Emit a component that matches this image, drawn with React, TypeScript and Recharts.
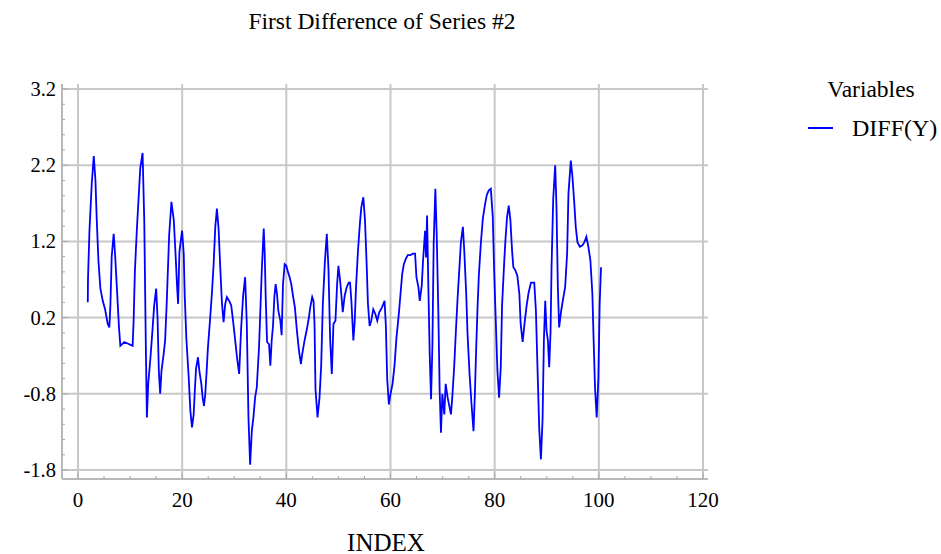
import React from "react";
import { LineChart, Line, XAxis, YAxis, CartesianGrid } from "recharts";

const xIndex = [
  1.88, 1.92, 2.2, 2.64, 3.03, 3.35, 3.6, 3.92, 4.3, 4.75, 5.2, 5.7, 6.02, 6.22, 6.47, 6.85, 7.11, 7.49, 7.87, 8.13,
  8.89, 9.53, 10.49, 10.68, 10.93, 11.31, 11.63, 11.95, 12.4, 12.72, 13.04, 13.23, 13.48, 13.86, 14.25, 14.63, 15.01, 15.27, 15.52, 15.78,
  16.03, 16.41, 16.73, 17.05, 17.5, 17.94, 18.39, 18.71, 19.03, 19.22, 19.47, 19.98, 20.3, 20.49, 20.81, 21.26, 21.57, 21.89, 22.21, 22.4,
  22.66, 23.04, 23.3, 23.68, 23.93, 24.19, 24.44, 24.7, 24.95, 25.34, 25.72, 26.04, 26.36, 26.67, 26.99, 27.31, 27.63, 27.95, 28.27, 28.59,
  29.03, 29.42, 29.8, 30.18, 30.56, 30.94, 31.33, 31.71, 32.09, 32.41, 32.73, 33.05, 33.37, 33.68, 34.0, 34.32, 34.77, 35.3, 35.66, 35.85,
  36.04, 36.3, 36.68, 36.93, 37.19, 37.44, 37.7, 37.95, 38.21, 38.46, 38.85, 39.1, 39.36, 39.68, 39.99, 40.31, 40.63, 40.95, 41.27, 41.65,
  42.03, 42.42, 42.8, 43.05, 43.5, 43.95, 44.33, 44.58, 44.97, 45.22, 45.41, 45.6, 45.99, 46.37, 46.69, 47.01, 47.39, 47.77, 48.09, 48.41,
  48.73, 49.05, 49.43, 49.75, 50.0, 50.32, 50.58, 50.83, 51.21, 51.6, 51.98, 52.23, 52.49, 52.87, 53.12, 53.38, 53.76, 54.14, 54.4, 54.78,
  55.1, 55.42, 55.67, 55.99, 56.31, 56.69, 57.08, 57.46, 57.84, 58.35, 58.86, 59.11, 59.37, 59.69, 60.01, 60.39, 60.77, 61.15, 61.6, 61.92,
  62.24, 62.56, 62.94, 63.32, 63.83, 64.34, 64.72, 64.98, 65.36, 65.62, 66.0, 66.25, 66.64, 66.83, 67.02, 67.27, 67.53, 67.78, 68.04, 68.29,
  68.61, 68.87, 69.18, 69.44, 69.69, 69.95, 70.33, 70.59, 70.97, 71.35, 71.61, 71.86, 72.24, 72.56, 72.88, 73.2, 73.52, 73.9, 74.16, 74.54,
  74.79, 75.18, 75.56, 75.94, 76.2, 76.45, 76.71, 76.96, 77.34, 77.73, 78.11, 78.49, 78.87, 79.26, 79.64, 79.89, 80.21, 80.53, 80.85, 81.17,
  81.42, 81.81, 82.06, 82.38, 82.7, 83.02, 83.34, 83.59, 83.97, 84.35, 84.74, 84.99, 85.37, 85.76, 86.14, 86.52, 86.97, 87.6, 87.92, 88.24,
  88.56, 88.88, 89.2, 89.45, 89.71, 89.96, 90.22, 90.47, 90.73, 90.92, 91.24, 91.62, 91.87, 92.13, 92.38, 92.77, 93.15, 93.53, 93.91, 94.17,
  94.62, 94.93, 95.25, 95.57, 95.89, 96.34, 96.85, 97.23, 97.61, 97.99, 98.38, 98.76, 99.01, 99.27, 99.59, 99.91, 100.16, 100.42,
];

const diffY = [
  0.4, 0.71, 1.34, 1.96, 2.32, 2.0, 1.48, 0.95, 0.58, 0.42, 0.31, 0.12, 0.07, 0.36, 1.0, 1.3, 1.04, 0.56, 0.07, -0.17,
  -0.12, -0.14, -0.17, 0.16, 0.82, 1.37, 1.76, 2.16, 2.36, 1.48, -0.26, -1.11, -0.67, -0.37, -0.01, 0.36, 0.58, 0.2, -0.5, -0.8,
  -0.5, -0.3, -0.1, 0.42, 1.28, 1.72, 1.48, 1.06, 0.6, 0.38, 1.06, 1.34, 1.04, 0.49, -0.08, -0.59, -1.02, -1.24, -1.07, -0.8,
  -0.47, -0.32, -0.5, -0.67, -0.85, -0.96, -0.8, -0.5, -0.19, 0.16, 0.53, 0.9, 1.39, 1.63, 1.37, 0.86, 0.4, 0.14, 0.38, 0.47,
  0.42, 0.36, 0.14, -0.1, -0.34, -0.54, 0.07, 0.49, 0.73, 0.12, -1.11, -1.73, -1.29, -1.11, -0.85, -0.72, -0.17, 0.84, 1.37, 1.04,
  0.47, -0.12, -0.15, -0.43, -0.1, 0.09, 0.47, 0.64, 0.51, 0.29, 0.16, -0.03, 0.64, 0.9, 0.88, 0.8, 0.73, 0.64, 0.49, 0.33,
  0.03, -0.23, -0.41, -0.28, -0.1, 0.05, 0.2, 0.33, 0.47, 0.42, 0.12, -0.74, -1.11, -0.85, -0.43, 0.38, 0.92, 1.3, 0.84, -0.08,
  -0.54, 0.12, 0.16, 0.64, 0.88, 0.69, 0.49, 0.27, 0.49, 0.6, 0.66, 0.66, 0.42, -0.1, 0.14, 0.6, 1.08, 1.45, 1.65, 1.78,
  1.48, 0.9, 0.38, 0.09, 0.16, 0.31, 0.25, 0.16, 0.27, 0.33, 0.42, 0.09, -0.61, -0.94, -0.8, -0.67, -0.43, -0.06, 0.25, 0.51,
  0.77, 0.9, 0.97, 1.02, 1.02, 1.04, 1.04, 0.73, 0.6, 0.42, 0.62, 0.95, 1.34, 0.99, 1.54, 0.6, -0.28, -0.87, -0.19, 1.17,
  1.89, 1.3, 0.29, -0.76, -1.31, -0.8, -1.07, -0.67, -0.85, -0.98, -1.07, -0.85, -0.43, 0.03, 0.45, 0.82, 1.19, 1.39, 1.08, 0.51,
  -0.01, -0.54, -0.94, -1.29, -0.8, -0.21, 0.33, 0.75, 1.17, 1.5, 1.67, 1.81, 1.87, 1.89, 1.52, 0.84, 0.16, -0.5, -0.85, -0.45,
  0.36, 0.9, 1.21, 1.52, 1.67, 1.48, 1.08, 0.86, 0.82, 0.75, 0.51, 0.12, -0.12, 0.14, 0.36, 0.53, 0.66, 0.66, 0.29, -0.5,
  -1.26, -1.66, -1.13, -0.1, 0.42, 0.03, -0.1, -0.45, 0.01, 0.86, 1.76, 2.2, 1.65, 0.6, 0.07, 0.29, 0.45, 0.6, 1.04, 1.83,
  2.26, 2.05, 1.74, 1.39, 1.19, 1.13, 1.15, 1.19, 1.26, 1.13, 0.95, 0.51, -0.12, -0.72, -1.11, -0.61, 0.38, 0.86,
];

const majorX = [0, 20, 40, 60, 80, 100, 120];
const xTicks = [0, 5, 10, 15, 20, 25, 30, 35, 40, 45, 50, 55, 60, 65, 70, 75, 80, 85, 90, 95, 100, 105, 110, 115, 120];
const majorY = [-1.8, -0.8, 0.2, 1.2, 2.2, 3.2];
const yTicks = [
  -1.8, -1.6, -1.4, -1.2, -1.0, -0.8, -0.6, -0.4, -0.2, 0.0, 0.2, 0.4, 0.6, 0.8, 1.0, 1.2, 1.4, 1.6, 1.8, 2.0, 2.2, 2.4, 2.6, 2.8, 3.0, 3.2,
];

const chartTitle = "First Difference of Series #2";
const xLabel = "INDEX";
const legendTitle = "Variables";
const seriesName = "DIFF(Y)";

const data = xIndex.map((x, i) => ({ index: x, value: diffY[i] }));

const FONT = '"Liberation Serif", "Times New Roman", serif';
const isMajor = (list: number[], v: number) => list.some((m) => Math.abs(m - v) < 1e-6);

const XTick = (props: any) => {
  const { x, y, payload } = props;
  const v = payload.value;
  const major = isMajor(majorX, v);
  return (
    <g>
      <line x1={x} x2={x} y1={y} y2={y - (major ? 6 : 3)} stroke="#a8a8a8" strokeWidth={1} />
      {major && (
        <text x={x} y={y + 21} textAnchor="middle" dominantBaseline="central" fontSize={21} fontFamily={FONT} fill="#000">
          {String(v)}
        </text>
      )}
    </g>
  );
};

const YTick = (props: any) => {
  const { x, y, payload } = props;
  const v = payload.value;
  const major = isMajor(majorY, v);
  return (
    <g>
      <line x1={x} x2={x + (major ? 6 : 3)} y1={y} y2={y} stroke="#a8a8a8" strokeWidth={1} />
      {major && (
        <text x={x - 6} y={y} textAnchor="end" dominantBaseline="central" fontSize={20.5} fontFamily={FONT} fill="#000">
          {v.toFixed(1)}
        </text>
      )}
    </g>
  );
};

export default function App() {
  return (
    <div style={{ position: "relative", width: 941, height: 554, fontFamily: FONT, background: "#fff", overflow: "hidden" }}>
      <style>{`body{margin:0;overflow:hidden;}`}</style>
      <LineChart width={941} height={554} data={data} margin={{ top: 84, right: 233, bottom: 15, left: 0 }}>
        <CartesianGrid stroke="#c8c8c8" strokeWidth={2} horizontalValues={majorY} verticalValues={majorX} />
        <XAxis
          type="number"
          dataKey="index"
          domain={[0, 120]}
          ticks={xTicks}
          interval={0}
          padding={{ left: 16, right: 5 }}
          height={60}
          stroke="#b8b8b8"
          strokeWidth={2}
          tickLine={false}
          tickSize={0}
          tickMargin={0}
          tick={<XTick />}
        />
        <YAxis
          type="number"
          domain={[-1.8, 3.2]}
          ticks={yTicks}
          interval={0}
          padding={{ top: 5, bottom: 9 }}
          width={62}
          stroke="#b8b8b8"
          strokeWidth={2}
          tickLine={false}
          tickSize={0}
          tickMargin={0}
          tick={<YTick />}
        />
        <Line type="linear" dataKey="value" stroke="#0000ff" strokeWidth={1.8} dot={false} isAnimationActive={false} />
      </LineChart>
      <div style={{ position: "absolute", left: 382, top: 22, transform: "translate(-50%,-50%)", fontSize: 23.5, whiteSpace: "nowrap", lineHeight: 1 }}>
        {chartTitle}
      </div>
      <div style={{ position: "absolute", left: 386, top: 542, transform: "translate(-50%,-50%)", fontSize: 25, whiteSpace: "nowrap", lineHeight: 1 }}>
        {xLabel}
      </div>
      <div style={{ position: "absolute", left: 871, top: 90, transform: "translate(-50%,-50%)", fontSize: 23.5, whiteSpace: "nowrap", lineHeight: 1 }}>
        {legendTitle}
      </div>
      <div style={{ position: "absolute", left: 808, top: 127, width: 25, height: 1.5, background: "#0000ff" }} />
      <div style={{ position: "absolute", left: 852, top: 128, transform: "translateY(-50%)", fontSize: 24, whiteSpace: "nowrap", lineHeight: 1 }}>
        {seriesName}
      </div>
    </div>
  );
}
